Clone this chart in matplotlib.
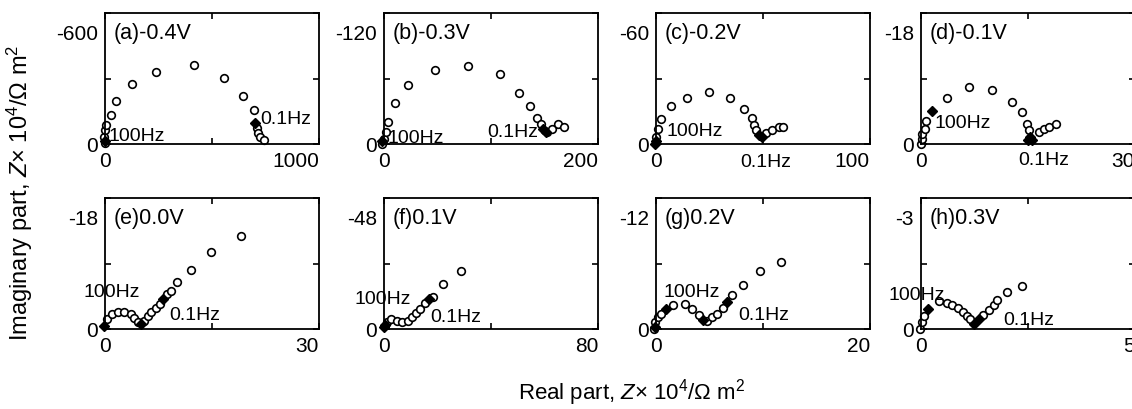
import matplotlib
matplotlib.use('Agg')
import matplotlib.pyplot as plt
from matplotlib.transforms import ScaledTranslation

plt.rcParams['font.family'] = ['Liberation Sans', 'DejaVu Sans']
plt.rcParams['mathtext.fontset'] = 'custom'
plt.rcParams['mathtext.rm'] = 'Liberation Sans'
plt.rcParams['mathtext.it'] = 'Liberation Sans:italic'

# Nyquist data, Z x 10^4 / ohm m^2 (imaginary part negative = capacitive)
a_re = [0, -5, 0, 3, 27, 50, 126, 239, 414, 556, 647, 694, 710, 717, 725, 741]
a_im = [-3, -34, -64, -87, -133, -199, -275, -332, -360, -304, -220, -156, -72, -49, -34, -18]
a_fill_re = [0, 702]
a_fill_im = [-15, -98]

b_re = [-1.5, 0, 1.5, 4, 10.2, 22.3, 47.4, 78.4, 108, 126, 136.7, 142.6, 146.7, 152, 157, 163, 168]
b_im = [0, -5, -10.8, -20, -37.8, -54, -67.7, -71.4, -63.7, -47, -34.5, -23.7, -18.5, -10.8, -13.8, -18.5, -15.4]
b_fill_re = [-2, 149, 151]
b_fill_im = [-3, -13.8, -11]

c_re = [0, 0.8, 2.3, 7, 14.4, 24.6, 34.7, 41.2, 44.9, 45.8, 46.9, 51.6, 54.3, 57.4, 59.5]
c_im = [-3, -7, -11.6, -17.3, -21.2, -23.8, -20.9, -16.2, -11.9, -8.5, -6.2, -5, -6.2, -7.7, -7.7]
c_fill_re = [-0.3, 0, 48, 49.3]
c_fill_im = [0, -1.5, -4, -3.1]

d_re = [0, 0.1, 0.2, 0.5, 0.7, 3.6, 6.7, 9.9, 12.7, 14.2, 14.9, 15.1, 16.5, 17.2, 17.9, 18.9]
d_im = [0, -0.7, -1.4, -2.1, -3.2, -6.3, -7.8, -7.4, -5.8, -4.4, -2.7, -1.9, -1.6, -2.1, -2.3, -2.8]
d_fill_re = [1.6, 15.0, 15.3, 15.6]
d_fill_im = [-4.6, -0.5, -1.0, -0.6]

e_re = [0.28, 0.99, 1.8, 2.7, 3.6, 4.0, 4.6, 5.4, 6.0, 6.5, 7.1, 7.7, 8.7, 9.3, 10.1, 12.0, 14.9, 19.0]
e_im = [-1.38, -2.1, -2.4, -2.4, -2.1, -1.5, -0.9, -1.15, -1.75, -2.3, -2.9, -3.5, -4.85, -5.2, -6.4, -8.1, -10.6, -12.8]
e_fill_re = [-0.2, 5.0, 8.2]
e_fill_im = [-0.4, -0.7, -4.1]

f_re = [1, 2.8, 4.7, 6.9, 9, 10.6, 12.1, 13.6, 15.2, 18.3, 22, 28.8]
f_im = [-2.5, -3.7, -3.1, -2.5, -3.1, -4.3, -5.8, -7.4, -9.5, -11.7, -16.4, -21.2]
f_fill_re = [0, 0.5, 16.8]
f_fill_im = [-0.6, -1.5, -11.1]

g_re = [-0.2, -0.06, 0.16, 0.5, 1.6, 2.7, 3.4, 4.0, 4.8, 5.2, 5.7, 6.3, 7.1, 8.1, 9.7, 11.7]
g_im = [0, -0.6, -1.1, -1.4, -2.2, -2.3, -1.8, -1.3, -0.7, -1.1, -1.4, -1.9, -3.1, -4.0, -5.3, -6.1]
g_fill_re = [-0.1, 0.9, 4.4, 6.6]
g_fill_im = [-0.2, -1.8, -0.8, -2.5]

h_re = [-0.02, 0.02, 0.08, 0.41, 0.6, 0.73, 0.87, 0.99, 1.07, 1.15, 1.46, 1.58, 1.7, 1.78, 2.01, 2.35]
h_im = [-0.01, -0.16, -0.3, -0.63, -0.59, -0.55, -0.47, -0.4, -0.3, -0.22, -0.32, -0.43, -0.55, -0.67, -0.84, -0.98]
h_fill_re = [0.17, 1.23, 1.35]
h_fill_im = [-0.45, -0.12, -0.22]

titles = ['(a)-0.4V', '(b)-0.3V', '(c)-0.2V', '(d)-0.1V',
          '(e)0.0V', '(f)0.1V', '(g)0.2V', '(h)0.3V']
x_max = [1000, 200, 100, 30, 30, 80, 20, 5]
y_max = [-600, -120, -60, -18, -18, -48, -12, -3]
x_labels = ['1000', '200', '100', '30', '30', '80', '20', '5']
y_labels = ['-600', '-120', '-60', '-18', '-18', '-48', '-12', '-3']

# frequency label positions (re, im)
hz100_pos = [(148, -41), (30, -6), (18, -6.2), (5.9, -2.9),
             (0.94, -5.1), (-0.6, -11.3), (3.3, -3.4), (-0.11, -0.8)]
hz01_pos = [(845, -118), (120, -11.4), (51.2, 8.0), (17.2, 2.1),
            (12.6, -2.0), (26.7, -4.6), (10.1, -1.3), (2.52, -0.21)]

series = [(a_re, a_im, a_fill_re, a_fill_im), (b_re, b_im, b_fill_re, b_fill_im),
          (c_re, c_im, c_fill_re, c_fill_im), (d_re, d_im, d_fill_re, d_fill_im),
          (e_re, e_im, e_fill_re, e_fill_im), (f_re, f_im, f_fill_re, f_fill_im),
          (g_re, g_im, g_fill_re, g_fill_im), (h_re, h_im, h_fill_re, h_fill_im)]

fig = plt.figure(figsize=(11.32, 4.10), dpi=100)
W, H = 1132, 410
lefts = [105, 384, 656, 921]
tops = [14, 199]
pw, ph = 214, 131

fs = 15
for i, (re, im, fre, fim) in enumerate(series):
    row, col = divmod(i, 4)
    ax = fig.add_axes([lefts[col] / W, (H - tops[row] - ph) / H, pw / W, ph / H])
    ax.plot(re, im, 'o', ms=5.5, mfc='white', mec='black', mew=1.2, clip_on=False)
    ax.plot(fre, fim, 'D', ms=5, color='black', clip_on=False)
    ax.set_xlim(0, x_max[i])
    ax.set_ylim(0, y_max[i])
    ax.set_xticks([0, x_max[i] / 2, x_max[i]])
    ax.set_xticklabels(['0', '', x_labels[i]])
    ax.set_yticks([0, y_max[i] / 2, y_max[i]])
    ax.set_yticklabels(['0', '', y_labels[i]])
    ax.tick_params(direction='in', length=4, width=1.2, top=True, right=True,
                   labelsize=fs, pad=5)
    for s in ax.spines.values():
        s.set_linewidth(1.3)
    xl = ax.get_xticklabels()
    xl[2].set_ha('right')
    yl = ax.get_yticklabels()
    yl[2].set_va('top')
    yl[2].set_transform(yl[2].get_transform() +
                        ScaledTranslation(0, -8 / 72, fig.dpi_scale_trans))
    ax.text(0.04, 0.93, titles[i], transform=ax.transAxes, fontsize=15.5,
            ha='left', va='top')
    ax.text(hz100_pos[i][0], hz100_pos[i][1], '100Hz', fontsize=14,
            ha='center', va='center', clip_on=False)
    ax.text(hz01_pos[i][0], hz01_pos[i][1], '0.1Hz', fontsize=14,
            ha='center', va='center', clip_on=False)

fig.text(20 / W, 0.53, r'Imaginary part, $Z$$\times$ 10$^4$/Ω m$^2$',
         rotation=90, ha='center', va='center', fontsize=17)
fig.text(632 / W, 17 / H, r'Real part, $Z$$\times$ 10$^4$/Ω m$^2$',
         ha='center', va='center', fontsize=16)

fig.savefig('out.png', dpi=100)
